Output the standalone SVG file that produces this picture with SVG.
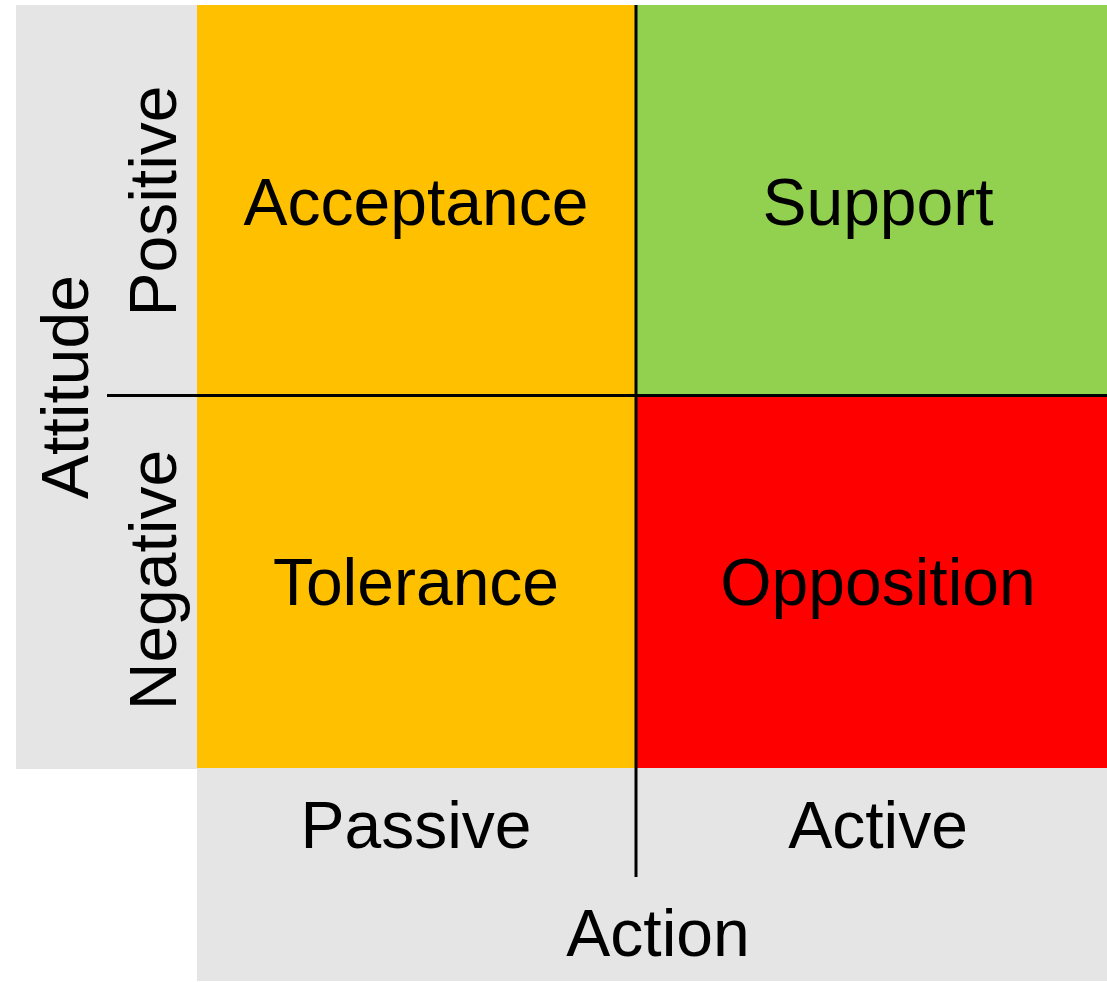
<svg xmlns="http://www.w3.org/2000/svg" width="1107" height="982" viewBox="0 0 1107 982">
<style>
.lbl{font-family:"Liberation Sans",Arial,sans-serif;font-size:66px;fill:#000;text-anchor:middle}
.gray{fill:#E5E5E5}
.ln{stroke:#000;stroke-width:3;fill:none}
</style>
<rect width="1107" height="982" fill="#fff"/>
<g id="axis-attitude">
<rect class="gray" x="16" y="5" width="181" height="764"/>
<text class="lbl" transform="translate(88,387) rotate(-90)">Attitude</text>
<text class="lbl" transform="translate(176,201) rotate(-90)">Positive</text>
<text class="lbl" transform="translate(176,580) rotate(-90)">Negative</text>
</g>
<g id="axis-action">
<rect class="gray" x="197" y="768" width="910" height="213"/>
<text class="lbl" x="416" y="848">Passive</text>
<text class="lbl" x="878" y="848">Active</text>
<text class="lbl" x="658" y="956">Action</text>
</g>
<g id="acceptance">
<rect x="197" y="5" width="439" height="390" fill="#FFC000"/>
<text class="lbl" x="416" y="225">Acceptance</text>
</g>
<g id="support">
<rect x="636" y="5" width="471" height="390" fill="#92D050"/>
<text class="lbl" x="878" y="225">Support</text>
</g>
<g id="tolerance">
<rect x="197" y="395" width="439" height="373" fill="#FFC000"/>
<text class="lbl" x="416" y="605">Tolerance</text>
</g>
<g id="opposition">
<rect x="636" y="395" width="471" height="373" fill="#FF0000"/>
<text class="lbl" x="878" y="605">Opposition</text>
</g>
<g id="connectors">
<line class="ln" x1="107" y1="395.5" x2="1107" y2="395.5"/>
<line class="ln" x1="636" y1="5" x2="636" y2="877"/>
</g>
</svg>
